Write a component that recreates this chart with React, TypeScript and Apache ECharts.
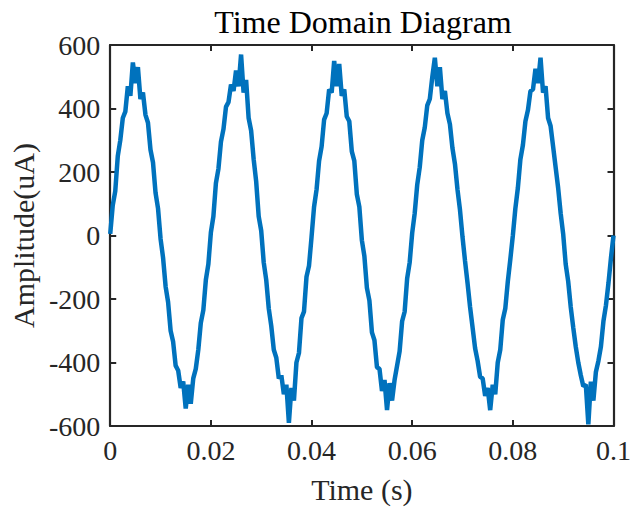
import React, { useEffect, useRef } from "react";
import * as echarts from "echarts";

const SAMPLE_INTERVAL = 0.0005; // s
const amplitude: number[] = [
  5, 95, 140, 250, 300, 370, 390, 470, 440, 545, 480, 530, 430, 450, 380, 355, 270, 230, 135, 85,
  -10, -70, -160, -210, -300, -335, -410, -425, -480, -460, -545, -470, -530, -450, -420, -360, -275, -235, -140, -90,
  10, 60, 165, 210, 295, 335, 405, 420, 475, 455, 520, 470, 570, 450, 490, 370, 330, 240, 170, 60,
  15, -85, -140, -230, -285, -360, -385, -450, -440, -500, -470, -590, -480, -520, -400, -370, -260, -240, -130, -95,
  -5, 90, 145, 235, 280, 365, 385, 460, 450, 550, 470, 540, 440, 460, 375, 360, 265, 235, 130, 90,
  -15, -65, -165, -205, -305, -330, -415, -420, -490, -455, -550, -465, -520, -455, -410, -365, -270, -240, -135, -85,
  8, 70, 160, 215, 300, 340, 410, 430, 500, 560, 470, 530, 430, 455, 385, 350, 275, 225, 145, 80,
  -5, -80, -150, -225, -290, -355, -395, -445, -450, -505, -480, -550, -470, -500, -400, -360, -265, -230, -145, -75,
  0, 85, 150, 240, 285, 360, 395, 455, 460, 525, 480, 560, 450, 470, 370, 345, 280, 215, 150, 70,
  5, -90, -145, -225, -290, -350, -400, -440, -475, -470, -595, -460, -520, -430, -395, -350, -270, -220, -150, -70,
  0,
];
const xTicks = [0, 0.02, 0.04, 0.06, 0.08, 0.1];
const yTicks = [-600, -400, -200, 0, 200, 400, 600];

const FONT = "'Liberation Serif', 'Times New Roman', serif";
const AXIS_COLOR = "#262626";

export default function App() {
  const ref = useRef<HTMLDivElement>(null);
  useEffect(() => {
    if (!ref.current) return;
    const chart = echarts.init(ref.current, undefined, { renderer: "svg" });
    const data = amplitude.map((v, i) => [+(i * SAMPLE_INTERVAL).toFixed(5), v]);
    const commonX = {
      type: "value" as const,
      min: xTicks[0],
      max: xTicks[xTicks.length - 1],
      interval: 0.02,
      splitLine: { show: false },
      axisLine: { show: true, onZero: false, lineStyle: { color: AXIS_COLOR, width: 2.2 } },
      axisTick: { show: true, inside: true, length: 6, lineStyle: { color: AXIS_COLOR, width: 2 } },
    };
    const commonY = {
      type: "value" as const,
      min: yTicks[0],
      max: yTicks[yTicks.length - 1],
      interval: 200,
      splitLine: { show: false },
      axisLine: { show: true, onZero: false, lineStyle: { color: AXIS_COLOR, width: 2.2 } },
      axisTick: { show: true, inside: true, length: 6, lineStyle: { color: AXIS_COLOR, width: 2 } },
    };
    chart.setOption({
      animation: false,
      textStyle: { fontFamily: FONT },
      title: {
        text: "Time Domain Diagram",
        left: 358,
        textAlign: "center",
        top: 1,
        textStyle: { fontFamily: FONT, fontSize: 32, fontWeight: "normal", color: "#000" },
      },
      grid: { left: 107, right: 17, top: 45, bottom: 81, containLabel: false },
      xAxis: [
        {
          ...commonX,
          position: "bottom",
          name: "Time (s)",
          nameLocation: "middle",
          nameGap: 48,
          nameTextStyle: { fontFamily: FONT, fontSize: 30, color: "#262626" },
          axisLabel: {
            fontFamily: FONT,
            fontSize: 28,
            color: "#262626",
            margin: 10,
            formatter: (v: number) => String(+v.toFixed(2)),
          },
        },
        { ...commonX, position: "top", axisLabel: { show: false } },
      ],
      yAxis: [
        {
          ...commonY,
          position: "left",
          name: "Amplitude(uA)",
          nameLocation: "middle",
          nameGap: 64,
          nameTextStyle: { fontFamily: FONT, fontSize: 30, color: "#262626" },
          axisLabel: { fontFamily: FONT, fontSize: 28, color: "#262626", margin: 10 },
        },
        { ...commonY, position: "right", axisLabel: { show: false } },
      ],
      series: [
        {
          type: "line",
          data,
          xAxisIndex: 0,
          yAxisIndex: 0,
          showSymbol: false,
          symbol: "none",
          lineStyle: { color: "#0072BD", width: 4.5 },
          z: 1,
        },
      ],
    });
    return () => chart.dispose();
  }, []);
  return <div ref={ref} style={{ width: 634, height: 509, position: "absolute", left: 0, top: 0 }} />;
}
